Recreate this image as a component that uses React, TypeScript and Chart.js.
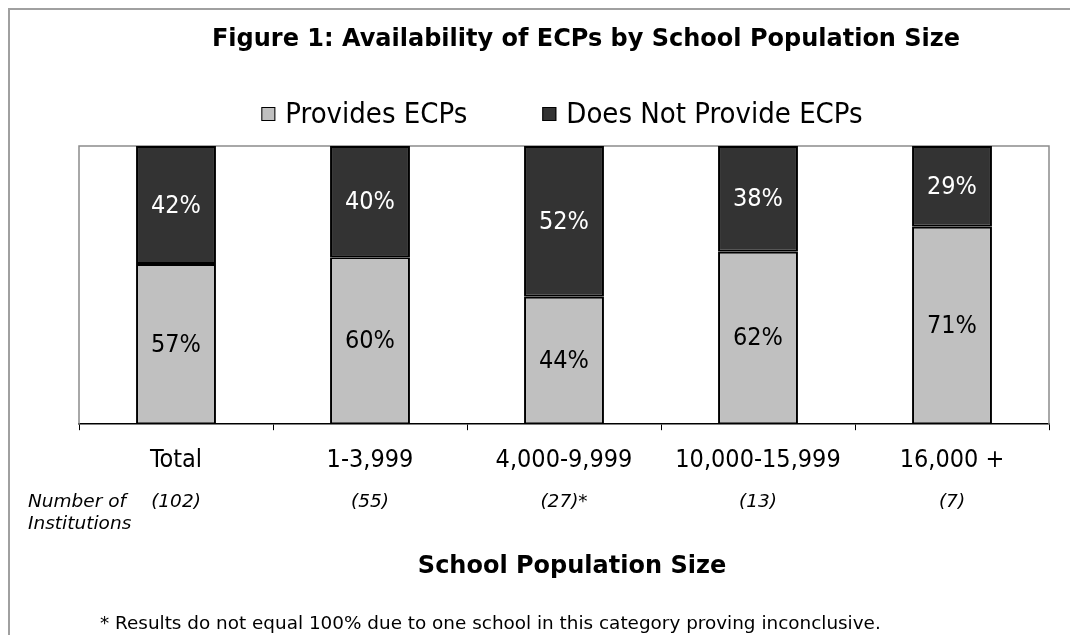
import { useEffect, useRef } from "react";
import { Chart, registerables } from "chart.js";

Chart.register(...registerables);

const categories = ["Total", "1-3,999", "4,000-9,999", "10,000-15,999", "16,000 +"];
const institutionCounts = ["(102)", "(55)", "(27)*", "(13)", "(7)"];
const providesECPs = [57, 60, 44, 62, 71];
const doesNotProvideECPs = [42, 40, 52, 38, 29];
const seriesNames = ["Provides ECPs", "Does Not Provide ECPs"];
const seriesColors = ["#C0C0C0", "#333333"];
const labelColors = ["#000000", "#FFFFFF"];
const chartTitle = "Figure 1: Availability of ECPs by School Population Size";
const xAxisTitle = "School Population Size";
const countsRowLabel = ["Number of", "Institutions"];
const footnote = "* Results do not equal 100% due to one school in this category proving inconclusive.";

const COND = "'DejaVu Sans Condensed', 'DejaVu Sans', sans-serif";
const WIDE = "'DejaVu Sans', Verdana, sans-serif";

// 100% stacked: each bar is normalised to its own total, labels keep raw values
const totals = providesECPs.map((v, i) => v + doesNotProvideECPs[i]);
const rawSeries = [providesECPs, doesNotProvideECPs];
const shareSeries = rawSeries.map((s) => s.map((v, i) => (v / totals[i]) * 100));

const decorPlugin = {
  id: "decor",
  beforeDatasetsDraw(chart: any) {
    const { ctx, chartArea } = chart;
    ctx.save();
    ctx.strokeStyle = "#8c8c8c";
    ctx.lineWidth = 1.5;
    ctx.beginPath();
    ctx.moveTo(chartArea.left, chartArea.bottom);
    ctx.lineTo(chartArea.left, chartArea.top);
    ctx.lineTo(chartArea.right, chartArea.top);
    ctx.lineTo(chartArea.right, chartArea.bottom);
    ctx.stroke();
    ctx.restore();
  },
  afterDatasetsDraw(chart: any) {
    const { ctx } = chart;
    ctx.save();
    ctx.textAlign = "center";
    ctx.textBaseline = "middle";
    ctx.font = `25px ${COND}`;
    chart.data.datasets.forEach((ds: any, di: number) => {
      const meta = chart.getDatasetMeta(di);
      meta.data.forEach((el: any, i: number) => {
        const y = (el.y + el.base) / 2;
        ctx.fillStyle = labelColors[di];
        ctx.fillText(rawSeries[di][i] + "%", el.x, y + 1);
      });
    });
    ctx.restore();
  },
  afterDraw(chart: any) {
    const { ctx, chartArea, width, height } = chart;
    const xs = chart.scales.x;
    ctx.save();
    ctx.strokeStyle = "#a0a0a0";
    ctx.lineWidth = 2;
    ctx.beginPath();
    ctx.moveTo(1, height);
    ctx.lineTo(1, 1);
    ctx.lineTo(width, 1);
    ctx.stroke();

    ctx.fillStyle = "#000";
    ctx.textBaseline = "middle";
    ctx.textAlign = "center";
    ctx.font = `bold 24px ${WIDE}`;
    ctx.fillText(chartTitle, 578, 32);

    // x-axis title, drawn slightly right of the plot centre as in the original
    const tFont = `bold 24px ${WIDE}`;
    ctx.font = tFont;
    ctx.fillText(xAxisTitle, (chartArea.left + chartArea.right) / 2 + 8, xs.bottom - 14.4);

    ctx.font = `29px ${COND}`;
    const boxSize = 14;
    const boxGap = 10;
    const itemGap = 75;
    const widths = seriesNames.map((n) => ctx.measureText(n).width);
    const total = widths.reduce((a, w) => a + boxSize + boxGap + w, 0) + itemGap * (seriesNames.length - 1);
    let x = 554 - total / 2;
    const ly = chartArea.top - 32;
    ctx.textAlign = "left";
    seriesNames.forEach((n, i) => {
      ctx.fillStyle = seriesColors[i];
      ctx.fillRect(x, ly - boxSize / 2, boxSize, boxSize);
      ctx.strokeStyle = "#000";
      ctx.lineWidth = 1;
      ctx.strokeRect(x + 0.5, ly - boxSize / 2 + 0.5, boxSize - 1, boxSize - 1);
      ctx.fillStyle = "#000";
      ctx.fillText(n, x + boxSize + boxGap, ly + 1);
      x += boxSize + boxGap + widths[i] + itemGap;
    });

    ctx.font = `italic 18.5px ${WIDE}`;
    ctx.fillStyle = "#000";
    ctx.textAlign = "left";
    ctx.fillText(countsRowLabel[0], 20, 494);
    ctx.fillText(countsRowLabel[1], 20, 516);
    ctx.textAlign = "center";
    institutionCounts.forEach((c, i) => {
      ctx.fillText(c, xs.getPixelForValue(i), 494);
    });

    ctx.font = `18.4px ${WIDE}`;
    ctx.textAlign = "left";
    ctx.fillText(footnote, 92, 616);
    ctx.restore();
  },
};

export default function App() {
  const ref = useRef<HTMLCanvasElement | null>(null);
  useEffect(() => {
    if (!ref.current) return;
    const chart = new Chart(ref.current, {
      type: "bar",
      data: {
        labels: categories,
        datasets: seriesNames.map((name, i) => ({
          label: name,
          data: shareSeries[i],
          backgroundColor: seriesColors[i],
          borderColor: "#000000",
          borderWidth: 2,
          borderSkipped: false,
          barPercentage: 0.412,
          categoryPercentage: 1,
        })),
      },
      options: {
        animation: false,
        responsive: true,
        maintainAspectRatio: false,
        layout: { padding: { left: 71, right: 21, top: 138, bottom: 54 } },
        plugins: {
          legend: { display: false },
          tooltip: { enabled: false },
          title: { display: false },
        },
        scales: {
          x: {
            stacked: true,
            grid: {
              display: true,
              offset: true,
              drawOnChartArea: false,
              tickLength: 6,
              color: "#000",
              lineWidth: 1,
            },
            border: { display: true, color: "#000", width: 1.5 },
            ticks: {
              color: "#000",
              font: { family: COND, size: 25 },
              padding: 15,
              maxRotation: 0,
              autoSkip: false,
            },
            title: {
              display: true,
              text: xAxisTitle,
              color: "rgba(0,0,0,0)",
              font: { family: WIDE, size: 24, weight: "bold" },
              padding: { top: 62, bottom: 0 },
            },
          },
          y: { stacked: true, display: false, min: 0, max: 100 },
        },
      },
      plugins: [decorPlugin],
    });
    return () => chart.destroy();
  }, []);
  return (
    <div style={{ position: "absolute", left: 8, top: 8, width: 1062, height: 627, background: "#fff" }}>
      <canvas ref={ref} />
    </div>
  );
}
